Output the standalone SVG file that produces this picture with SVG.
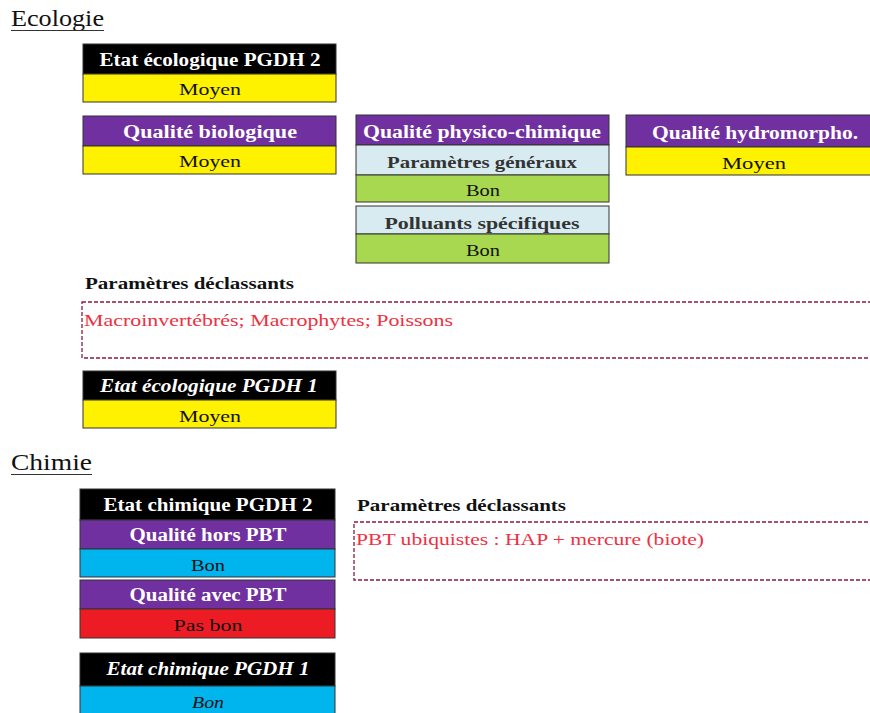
<svg xmlns="http://www.w3.org/2000/svg" width="870" height="713" viewBox="0 0 870 713">
<style>
text{font-family:"Liberation Serif","DejaVu Serif",serif;text-anchor:middle}
.h{font-weight:bold;font-size:18px;fill:#fff}
.hi{font-weight:bold;font-style:italic;font-size:18px;fill:#fff}
.v{font-size:17px;fill:#111}
.sub{font-weight:bold;font-size:17px;fill:#333}
.title{font-size:23px;fill:#111;text-anchor:start}
.lbl{font-weight:bold;font-size:17px;fill:#111;text-anchor:start}
.red{font-size:17px;fill:#f0303f;text-anchor:start}
rect{stroke:#333;stroke-width:1}
.dash{fill:none;stroke:#8b1a3a;stroke-width:1.3;stroke-dasharray:4 2}
.k{fill:#000}.y{fill:#fff200}.p{fill:#7030a0}.lb{fill:#d7ebf1}.g{fill:#a8d84f}.c{fill:#00b4ee}.r{fill:#ed1c24}
</style>
<g id="ecologie-title">
<text class="title" x="11" y="26" textLength="93" lengthAdjust="spacingAndGlyphs">Ecologie</text>
<line x1="11" y1="30.5" x2="104" y2="30.5" stroke="#333" stroke-width="1.2"/>
</g>
<g id="etat-eco-2">
<rect class="k" x="83" y="44" width="253" height="30"/>
<rect class="y" x="83" y="74" width="253" height="28"/>
<text class="h" x="210" y="66" textLength="221" lengthAdjust="spacingAndGlyphs">Etat écologique PGDH 2</text>
<text class="v" x="210" y="95" textLength="62" lengthAdjust="spacingAndGlyphs">Moyen</text>
</g>
<g id="qualite-bio">
<rect class="p" x="83" y="116" width="253" height="30"/>
<rect class="y" x="83" y="146" width="253" height="28"/>
<text class="h" x="210" y="138" textLength="174" lengthAdjust="spacingAndGlyphs">Qualité biologique</text>
<text class="v" x="210" y="167" textLength="62" lengthAdjust="spacingAndGlyphs">Moyen</text>
</g>
<g id="qualite-physico">
<rect class="p" x="356" y="115" width="253" height="30"/>
<rect class="lb" x="356" y="145" width="253" height="30"/>
<rect class="g" x="356" y="175" width="253" height="27"/>
<rect class="lb" x="356" y="206" width="253" height="28"/>
<rect class="g" x="356" y="234" width="253" height="29"/>
<text class="h" x="482" y="138" textLength="238" lengthAdjust="spacingAndGlyphs">Qualité physico-chimique</text>
<text class="sub" x="482" y="168" textLength="190" lengthAdjust="spacingAndGlyphs">Paramètres généraux</text>
<text class="v" x="483" y="196" textLength="34" lengthAdjust="spacingAndGlyphs">Bon</text>
<text class="sub" x="482" y="229" textLength="195" lengthAdjust="spacingAndGlyphs">Polluants spécifiques</text>
<text class="v" x="483" y="256" textLength="34" lengthAdjust="spacingAndGlyphs">Bon</text>
</g>
<g id="qualite-hydro">
<rect class="p" x="626" y="115" width="258" height="32"/>
<rect class="y" x="626" y="147" width="258" height="28"/>
<text class="h" x="755" y="139" textLength="206" lengthAdjust="spacingAndGlyphs">Qualité hydromorpho.</text>
<text class="v" x="754" y="169" textLength="64" lengthAdjust="spacingAndGlyphs">Moyen</text>
</g>
<g id="declassants-eco">
<text class="lbl" x="85" y="289" textLength="209" lengthAdjust="spacingAndGlyphs">Paramètres déclassants</text>
<rect class="dash" x="82" y="302" width="800" height="56"/>
<text class="red" x="84" y="326" textLength="369" lengthAdjust="spacingAndGlyphs">Macroinvertébrés; Macrophytes; Poissons</text>
</g>
<g id="etat-eco-1">
<rect class="k" x="83" y="371" width="253" height="29"/>
<rect class="y" x="83" y="400" width="253" height="28"/>
<text class="hi" x="209" y="392" textLength="218" lengthAdjust="spacingAndGlyphs">Etat écologique PGDH 1</text>
<text class="v" x="210" y="422" textLength="62" lengthAdjust="spacingAndGlyphs">Moyen</text>
</g>
<g id="chimie-title">
<text class="title" x="11" y="470" textLength="81" lengthAdjust="spacingAndGlyphs">Chimie</text>
<line x1="11" y1="474.5" x2="92" y2="474.5" stroke="#333" stroke-width="1.2"/>
</g>
<g id="etat-chim-2">
<rect class="k" x="80" y="489" width="255" height="31"/>
<rect class="p" x="80" y="520" width="255" height="29"/>
<rect class="c" x="80" y="549" width="255" height="28"/>
<rect class="p" x="80" y="580" width="255" height="29"/>
<rect class="r" x="80" y="609" width="255" height="29"/>
<text class="h" x="208" y="511" textLength="209" lengthAdjust="spacingAndGlyphs">Etat chimique PGDH 2</text>
<text class="h" x="208" y="541" textLength="157" lengthAdjust="spacingAndGlyphs">Qualité hors PBT</text>
<text class="v" x="208" y="571" textLength="34" lengthAdjust="spacingAndGlyphs">Bon</text>
<text class="h" x="208" y="601" textLength="157" lengthAdjust="spacingAndGlyphs">Qualité avec PBT</text>
<text class="v" x="208" y="631" textLength="69" lengthAdjust="spacingAndGlyphs">Pas bon</text>
</g>
<g id="etat-chim-1">
<rect class="k" x="80" y="653" width="255" height="33"/>
<rect class="c" x="80" y="686" width="255" height="30"/>
<text class="hi" x="208" y="675" textLength="203" lengthAdjust="spacingAndGlyphs">Etat chimique PGDH 1</text>
<text class="v" x="208" y="708" font-style="italic" textLength="32" lengthAdjust="spacingAndGlyphs">Bon</text>
</g>
<g id="declassants-chim">
<text class="lbl" x="357" y="511" textLength="209" lengthAdjust="spacingAndGlyphs">Paramètres déclassants</text>
<rect class="dash" x="354" y="522" width="530" height="58"/>
<text class="red" x="356" y="545" textLength="348" lengthAdjust="spacingAndGlyphs">PBT ubiquistes : HAP + mercure (biote)</text>
</g>
<g id="connectors"/>
</svg>
